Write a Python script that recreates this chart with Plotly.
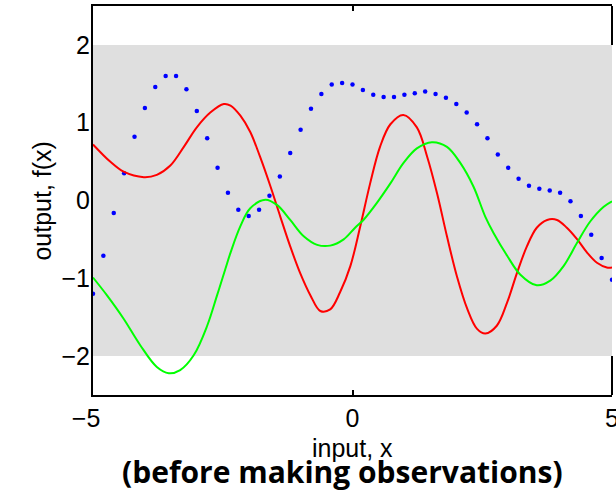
import plotly.graph_objects as go

# ---- data ----
x_ticks = [-5, 0, 5]
x_ticktext = ["\u22125\u2007", "0", "5"]
y_ticks = [-2, -1, 0, 1, 2]
y_ticktext = ["\u22122", "\u22121", "0", "1", "2"]

band_low = -2
band_high = 2

red_x = [-5.00, -4.67, -4.41, -4.02, -3.77, -3.51, -3.25, -3.00, -2.74, -2.48,
         -2.35, -2.16, -1.97, -1.78, -1.58, -1.39, -1.20, -1.01, -0.81, -0.62,
         -0.43, -0.24, -0.04, 0.15, 0.34, 0.53, 0.73, 0.98, 1.24, 1.44,
         1.63, 1.82, 2.01, 2.21, 2.40, 2.56, 2.78, 2.98, 3.17, 3.36,
         3.55, 3.75, 3.94, 4.13, 4.33, 4.52, 4.71, 4.90, 5.00]
red_y = [0.72, 0.50, 0.37, 0.30, 0.33, 0.45, 0.69, 0.94, 1.13, 1.24,
         1.22, 1.09, 0.88, 0.56, 0.18, -0.21, -0.59, -0.93, -1.22, -1.42,
         -1.40, -1.18, -0.84, -0.33, 0.22, 0.69, 0.98, 1.10, 0.94, 0.56,
         0.09, -0.46, -0.97, -1.39, -1.65, -1.71, -1.61, -1.31, -0.93, -0.59,
         -0.35, -0.25, -0.25, -0.35, -0.50, -0.67, -0.80, -0.86, -0.86]

green_x = [-5.00, -4.73, -4.41, -4.09, -3.77, -3.54, -3.32, -3.06, -2.80, -2.61,
           -2.45, -2.35, -2.16, -1.97, -1.68, -1.45, -1.20, -0.94, -0.68, -0.43,
           -0.17, 0.05, 0.21, 0.47, 0.73, 0.98, 1.24, 1.53, 1.82, 2.08,
           2.33, 2.56, 2.72, 2.98, 3.23, 3.55, 3.81, 4.07, 4.33, 4.58,
           4.84, 5.00]
green_y = [-0.99, -1.22, -1.52, -1.86, -2.14, -2.22, -2.18, -1.99, -1.61, -1.22,
           -0.88, -0.67, -0.33, -0.10, 0.01, -0.06, -0.25, -0.46, -0.57, -0.58,
           -0.50, -0.35, -0.25, -0.03, 0.22, 0.48, 0.67, 0.75, 0.69, 0.48,
           0.18, -0.21, -0.42, -0.71, -0.95, -1.09, -1.03, -0.84, -0.54, -0.27,
           -0.08, -0.01]

blue_x = [round(-5 + 0.2 * i, 1) for i in range(51)]
blue_y = [-1.20, -0.71, -0.16, 0.35, 0.82, 1.19, 1.46, 1.60, 1.60, 1.43,
          1.15, 0.80, 0.42, 0.10, -0.12, -0.20, -0.12, 0.06, 0.31, 0.61,
          0.91, 1.18, 1.37, 1.49, 1.51, 1.49, 1.42, 1.36, 1.33, 1.33,
          1.36, 1.38, 1.40, 1.37, 1.32, 1.24, 1.13, 0.98, 0.80, 0.59,
          0.42, 0.28, 0.19, 0.15, 0.13, 0.10, -0.01, -0.20, -0.44, -0.74,
          -1.02]

x_range = [-5, 5]
y_range = [-2.5, 2.5]

# ---- figure ----
fig = go.Figure()
fig.add_trace(go.Scatter(x=blue_x, y=blue_y, mode="markers",
                         marker=dict(color="rgb(0,0,255)", size=4.5, symbol="circle",
                                     line=dict(width=0)),
                         hoverinfo="skip"))
fig.add_trace(go.Scatter(x=red_x, y=red_y, mode="lines", line_shape="spline",
                         line=dict(color="rgb(255,0,0)", width=2), hoverinfo="skip"))
fig.add_trace(go.Scatter(x=green_x, y=green_y, mode="lines", line_shape="spline",
                         line=dict(color="rgb(0,255,0)", width=2), hoverinfo="skip"))

shapes = [
    dict(type="rect", xref="paper", yref="y", x0=0, x1=1, y0=band_low, y1=band_high,
         fillcolor="rgb(223,223,223)", line=dict(width=0), layer="below"),
    dict(type="line", xref="paper", yref="y", x0=1, x1=1, y0=band_high, y1=y_range[1],
         line=dict(color="black", width=2)),
    dict(type="line", xref="paper", yref="y", x0=1, x1=1, y0=y_range[0], y1=band_low,
         line=dict(color="black", width=2)),
]

tick_font = dict(family="Liberation Sans, Arial, sans-serif", size=25, color="black")

fig.update_layout(
    width=616, height=493,
    margin=dict(l=93, r=4, t=6, b=98),
    paper_bgcolor="white", plot_bgcolor="white",
    showlegend=False,
    shapes=shapes,
    xaxis=dict(range=x_range, tickvals=x_ticks, ticktext=x_ticktext,
               showgrid=False, zeroline=False, showline=True, linecolor="black",
               linewidth=2, mirror="ticks", ticks="inside", ticklen=5,
               tickwidth=1.5, tickcolor="black", tickfont=tick_font,
               ticklabeloverflow="allow", automargin=False),
    yaxis=dict(range=y_range, tickvals=y_ticks, ticktext=y_ticktext,
               showgrid=False, zeroline=False, showline=True, linecolor="black",
               linewidth=2, ticks="", tickfont=tick_font, ticklabelstandoff=-4,
               automargin=False),
    annotations=[
        dict(text="input, x", xref="paper", yref="paper", x=0.5, y=-0.135,
             xanchor="center", yanchor="middle", showarrow=False,
             font=dict(family="Liberation Sans, Arial, sans-serif", size=25, color="black")),
        dict(text="output, f(x)", xref="paper", yref="paper", x=-0.1, y=0.5,
             xanchor="center", yanchor="middle", textangle=-90, showarrow=False,
             font=dict(family="Liberation Sans, Arial, sans-serif", size=25, color="black")),
        dict(text="<b>(before making observations)</b>", xref="paper", yref="paper",
             x=0.481, y=-0.197, xanchor="center", yanchor="middle", showarrow=False,
             font=dict(family="Open Sans, sans-serif", size=30, color="black")),
    ],
)

fig.write_html("out.html",
               config={"displayModeBar": False},
               post_script="document.body.style.margin='0px';document.body.style.overflow='hidden';")
